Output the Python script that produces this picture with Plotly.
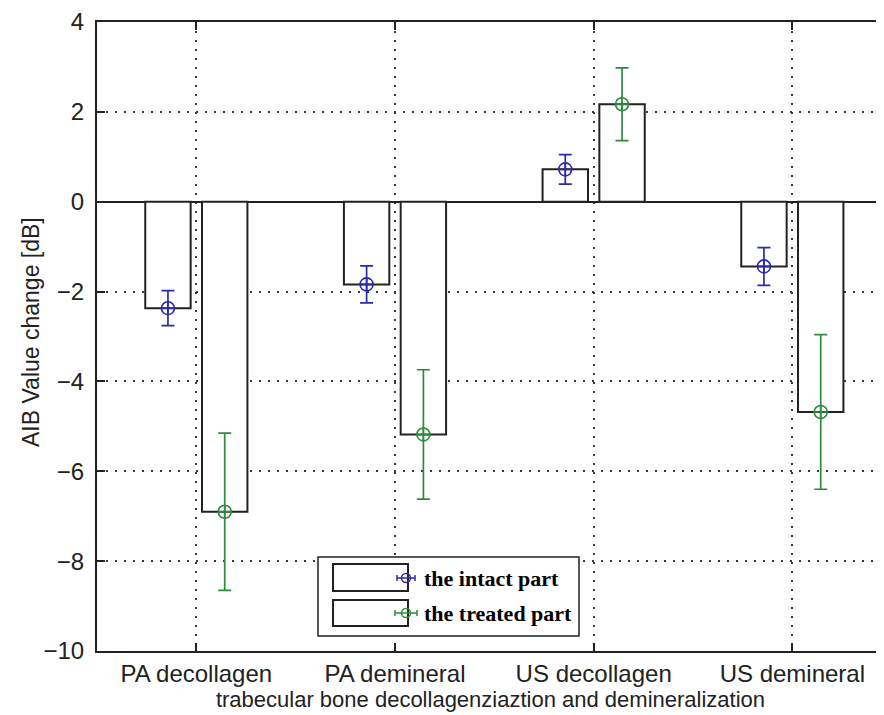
import plotly.graph_objects as go
import numpy as np

# ---------------- data ----------------
categories = ["PA decollagen", "PA demineral", "US decollagen", "US demineral"]
intact_mean = [-2.37, -1.84, 0.72, -1.44]
intact_err = [0.39, 0.41, 0.33, 0.42]
treated_mean = [-6.90, -5.18, 2.17, -4.68]
treated_err = [1.75, 1.44, 0.81, 1.72]
series_names = ["the intact part", "the treated part"]
y_ticks = [-10, -8, -6, -4, -2, 0, 2, 4]

# ---------------- style ----------------
PAGE_OFF = 8                  # default body margin of the html page
W, H = 884 - PAGE_OFF, 715 - PAGE_OFF
PLOT_L, PLOT_T, PLOT_B = 97, 22, 651   # page pixels
ML, MT, MB, MR = PLOT_L - PAGE_OFF, PLOT_T - PAGE_OFF, 715 - PLOT_B, 0
BARGAP = 1 - 2 / 3.5          # MATLAB grouped bar: group width 2/(2+1.5)
BARGROUPGAP = 0.2
BLUE = "#2a2aa8"
GREEN = "#2e8b3e"
AXC = "#222222"
GRIDC = "#3a3a3a"
FONT = "Liberation Sans, Arial, sans-serif"

idx = np.arange(1, len(categories) + 1)
offset = (1 - BARGAP) / 4

fig = go.Figure()
for name, vals in zip(series_names, [intact_mean, treated_mean]):
    fig.add_trace(go.Bar(
        x=idx, y=vals, name=name, showlegend=False,
        marker=dict(color="white", line=dict(color=AXC, width=2)),
    ))

for vals, errs, sign, col in [(intact_mean, intact_err, -1, BLUE),
                              (treated_mean, treated_err, 1, GREEN)]:
    fig.add_trace(go.Scatter(
        x=idx + sign * offset, y=vals, mode="markers", showlegend=False,
        marker=dict(symbol="circle-cross-open", size=13, color=col,
                    line=dict(color=col, width=1.6)),
        error_y=dict(type="data", array=errs, visible=True, color=col,
                     thickness=1.7, width=6.5),
    ))

plot_w = W - ML - MR
plot_h = H - MT - MB
px_per_unit = (792 - 196) / 3.0
x_max = 0.5 + plot_w / px_per_unit

def px(x):
    return (x - PLOT_L) / plot_w

def py(y):
    return (PLOT_B - y) / plot_h

shapes = []
# legend box
shapes.append(dict(type="rect", xref="paper", yref="paper",
                   x0=px(318), x1=px(579), y0=py(636), y1=py(557),
                   line=dict(color=AXC, width=1.5), fillcolor="white", layer="above"))
annotations = []
for (ry0, ry1, cy, gx0, gx1, col, name) in [
        (564, 591, 578, 397, 415, BLUE, series_names[0]),
        (600, 626, 613, 395, 417, GREEN, series_names[1])]:
    shapes.append(dict(type="rect", xref="paper", yref="paper",
                       x0=px(333), x1=px(408), y0=py(ry1), y1=py(ry0),
                       line=dict(color=AXC, width=2), fillcolor="white", layer="above"))
    shapes.append(dict(type="line", xref="paper", yref="paper",
                       x0=px(gx0), x1=px(gx1), y0=py(cy), y1=py(cy),
                       line=dict(color=col, width=1.5), layer="above"))
    for gx in (gx0, gx1):
        shapes.append(dict(type="line", xref="paper", yref="paper",
                           x0=px(gx), x1=px(gx), y0=py(cy - 3), y1=py(cy + 3),
                           line=dict(color=col, width=1.5), layer="above"))
    cx = (gx0 + gx1) / 2
    shapes.append(dict(type="circle", xref="paper", yref="paper",
                       x0=px(cx - 4.5), x1=px(cx + 4.5), y0=py(cy + 4.5), y1=py(cy - 4.5),
                       line=dict(color=col, width=1.5), layer="above"))
    annotations.append(dict(xref="paper", yref="paper", x=px(422), y=py(cy),
                            xanchor="left", yanchor="middle", showarrow=False,
                            text="<b>%s</b>" % name,
                            font=dict(family="Liberation Serif, Times New Roman, serif",
                                      size=22, color="black")))

# y axis title (placed like MATLAB's ylabel)
annotations.append(dict(xref="paper", yref="paper", x=px(31), y=py(332),
                        xanchor="center", yanchor="middle", showarrow=False,
                        textangle=-90, text="AIB Value change [dB]",
                        font=dict(family=FONT, size=23, color=AXC)))

fig.update_layout(
    width=W, height=H,
    margin=dict(l=ML, r=MR, t=MT, b=MB, pad=0),
    paper_bgcolor="white", plot_bgcolor="white",
    barmode="group", bargap=BARGAP, bargroupgap=BARGROUPGAP,
    font=dict(family=FONT, size=22, color=AXC),
    shapes=shapes, annotations=annotations,
    showlegend=False,
)
fig.update_xaxes(
    range=[0.5, x_max], tickvals=list(idx), ticktext=categories,
    ticks="inside", ticklen=8, tickwidth=1.5, tickcolor=AXC,
    showline=True, linewidth=2, linecolor=AXC, mirror="ticks",
    showgrid=True, gridcolor=GRIDC, gridwidth=1.6, griddash="2px,7px",
    zeroline=False, tickfont=dict(size=24), automargin=False,
    title=dict(text="trabecular bone decollagenziaztion and demineralization",
               font=dict(size=22), standoff=0),
)
fig.update_yaxes(
    range=[-10, 4], tickvals=y_ticks,
    ticks="inside", ticklen=8, tickwidth=1.5, tickcolor=AXC,
    showline=True, linewidth=2, linecolor=AXC, mirror=False,
    showgrid=True, gridcolor=GRIDC, gridwidth=1.6, griddash="2px,7px",
    zeroline=True, zerolinecolor=AXC, zerolinewidth=2,
    tickfont=dict(size=24), ticklabelstandoff=6, automargin=False,
)

fig.write_html("out.html")
